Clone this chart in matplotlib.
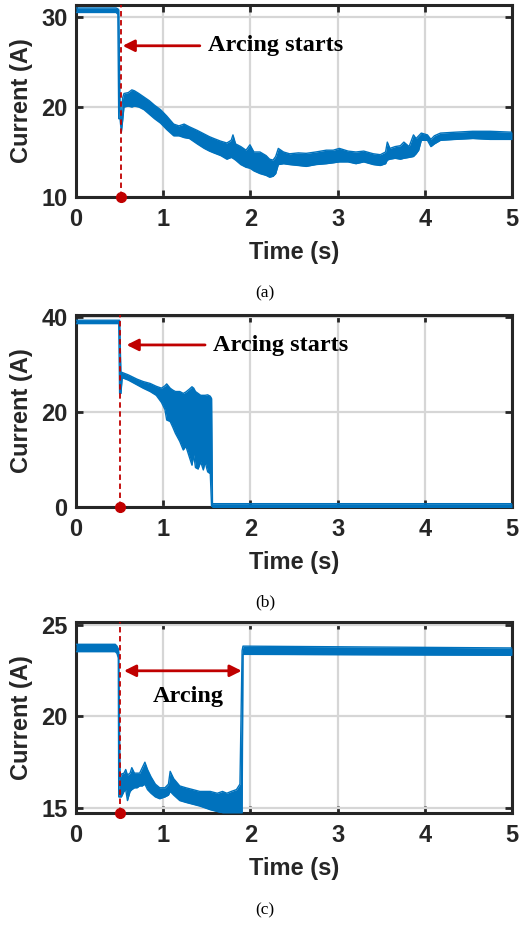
import matplotlib
matplotlib.use("Agg")
import matplotlib.pyplot as plt

# ---- measured current envelopes (time in s, lower / upper bound in A) ----
t_a = [0.00, 0.46, 0.48, 0.49, 0.505, 0.52, 0.535, 0.55, 0.60, 0.64, 0.67, 0.72, 0.78, 0.84,
       0.90, 0.97, 1.04, 1.12, 1.18, 1.24, 1.30, 1.39, 1.47, 1.53, 1.58, 1.66, 1.73, 1.78,
       1.80, 1.83, 1.89, 1.95, 1.995, 2.04, 2.11, 2.18, 2.22, 2.26, 2.29, 2.32, 2.38, 2.45,
       2.55, 2.64, 2.75, 2.87, 2.95, 3.02, 3.12, 3.21, 3.30, 3.41, 3.49, 3.55, 3.57, 3.60,
       3.66, 3.72, 3.76, 3.82, 3.87, 3.90, 3.93, 3.96, 4.03, 4.07, 4.11, 4.18, 4.35, 4.55,
       4.75, 5.00]
lo_a = [30.5, 30.5, 30.3, 18.7, 18.7, 17.2, 18.5, 20.0, 20.1, 20.0, 20.1, 20.0, 19.7, 19.2,
        18.7, 18.2, 17.5, 16.8, 16.8, 16.6, 16.5, 15.9, 15.4, 15.1, 14.9, 14.6, 14.2, 14.4,
        14.3, 14.1, 13.6, 13.3, 13.2, 12.9, 12.6, 12.4, 12.2, 12.3, 12.6, 13.6, 13.7, 13.6,
        13.5, 13.4, 13.6, 13.7, 13.8, 13.9, 13.9, 13.7, 13.9, 13.6, 13.5, 13.7, 14.1, 14.2,
        14.3, 14.2, 14.3, 14.4, 14.5, 14.8, 15.2, 16.3, 16.3, 15.6, 15.9, 16.3, 16.4, 16.5,
        16.4, 16.4]
hi_a = [31.0, 31.0, 30.9, 30.8, 19.5, 19.0, 21.0, 21.5, 21.6, 21.9, 21.8, 21.5, 21.1, 20.7,
        20.2, 19.7, 19.0, 18.1, 17.9, 18.1, 17.8, 17.4, 17.0, 16.7, 16.5, 16.2, 16.0, 16.3,
        16.9, 15.9, 15.6, 15.2, 15.8, 15.0, 15.0, 14.6, 14.2, 14.1, 14.5, 15.4, 15.0, 14.8,
        14.9, 14.85, 15.0, 15.2, 15.2, 15.4, 15.1, 15.0, 15.1, 14.8, 14.7, 15.0, 16.1, 15.4,
        15.6, 15.7, 16.1, 15.6, 16.9, 16.5, 16.8, 17.1, 16.9, 16.4, 16.8, 17.1, 17.2, 17.3,
        17.3, 17.2]

t_b = [0.00, 0.49, 0.50, 0.515, 0.53, 0.60, 0.70, 0.77, 0.85, 0.92, 0.98, 1.02, 1.04, 1.08,
       1.11, 1.14, 1.19, 1.23, 1.26, 1.30, 1.33, 1.35, 1.37, 1.40, 1.43, 1.46, 1.48, 1.51,
       1.54, 1.555, 1.565, 5.00]
lo_b = [38.6, 38.6, 23.9, 23.9, 27.2, 26.7, 25.7, 25.0, 24.3, 23.5, 22.0, 20.5, 18.3, 18.0,
        16.8, 15.5, 13.8, 12.0, 12.8, 10.5, 8.8, 11.0, 8.3, 8.0, 9.5, 7.8, 9.5, 7.4,
        7.0, 0.0, -0.2, -0.2]
hi_b = [39.3, 39.3, 39.3, 28.4, 28.3, 27.8, 26.9, 26.4, 26.0, 25.4, 25.0, 25.5, 25.9, 25.0,
        24.6, 24.3, 24.3, 23.9, 24.2, 24.8, 25.3, 25.0, 24.3, 23.9, 23.5, 23.5, 23.5, 23.6,
        23.3, 22.8, 0.7, 0.7]

t_c = [0.00, 0.45, 0.47, 0.485, 0.49, 0.505, 0.52, 0.55, 0.57, 0.59, 0.62, 0.64, 0.67, 0.70,
       0.73, 0.76, 0.79, 0.82, 0.86, 0.91, 0.96, 1.02, 1.06, 1.08, 1.12, 1.19, 1.26, 1.34,
       1.42, 1.48, 1.54, 1.62, 1.68, 1.73, 1.78, 1.84, 1.88, 1.905, 1.915, 5.00]
lo_c = [23.55, 23.55, 23.45, 23.2, 15.6, 15.6, 15.6, 15.9, 16.0, 15.4, 15.9, 16.0, 16.1, 16.1,
        16.2, 16.2, 16.3, 16.0, 15.8, 15.6, 15.5, 15.6, 15.7, 15.9, 15.7, 15.4, 15.3, 15.2,
        15.1, 15.0, 14.9, 14.8, 14.72, 14.72, 14.72, 14.72, 14.72, 14.72, 23.4, 23.35]
hi_c = [23.95, 23.95, 23.85, 23.7, 23.5, 16.6, 16.85, 16.9, 17.1, 16.8, 16.9, 17.2, 16.9, 16.9,
        16.9, 17.2, 17.5, 17.1, 16.7, 16.3, 16.1, 16.1, 16.3, 17.0, 16.6, 16.2, 16.1, 16.0,
        15.9, 15.9, 15.9, 15.8, 15.9, 15.8, 15.9, 16.0, 16.3, 23.6, 23.85, 23.75]

x_ticks = [0, 1, 2, 3, 4, 5]
y_ticks_a = [10, 20, 30]
y_ticks_b = [0, 20, 40]
y_ticks_c = [15, 20, 25]
arc_start = [0.52, 0.50, 0.50]
arc_end_c = 1.90
captions = ["(a)", "(b)", "(c)"]

BLUE = "#0072BD"
RED = "#C00000"
FRAME = "#262626"

fig = plt.figure(figsize=(5.22, 9.25), dpi=100)
W, H = 522.0, 925.0


def make_axes(top_px, bottom_px):
    return fig.add_axes([76 / W, 1 - bottom_px / H, 436 / W, (bottom_px - top_px) / H])


def style(ax, ylim, yticks):
    ax.set_xlim(0, 5)
    ax.set_ylim(*ylim)
    ax.set_xticks(x_ticks)
    ax.set_yticks(yticks)
    ax.grid(True, color="#d6d6d6", linewidth=1.6)
    ax.set_axisbelow(True)
    for s in ax.spines.values():
        s.set_linewidth(2.2)
        s.set_color(FRAME)
    ax.tick_params(direction="in", length=5, width=2, colors=FRAME,
                   top=True, right=True, labelsize=17)
    ax.tick_params(axis="x", pad=8)
    ax.tick_params(axis="y", pad=6)
    for lab in ax.get_xticklabels() + ax.get_yticklabels():
        lab.set_fontfamily("Liberation Sans")
        lab.set_fontweight("bold")
        lab.set_color(FRAME)
    ax.set_xlabel("Time (s)", fontsize=17, fontweight="bold",
                  fontfamily="Liberation Sans", color=FRAME)
    ax.set_ylabel("Current (A)", fontsize=17, fontweight="bold",
                  fontfamily="Liberation Sans", color=FRAME)
    ax.xaxis.set_label_coords(0.5, -0.23)
    ax.yaxis.set_label_coords(-0.099, 0.5)


def draw_signal(ax, t, lo, hi):
    ax.fill_between(t, lo, hi, color=BLUE, linewidth=0, zorder=3)
    ax.plot(t, lo, color=BLUE, linewidth=1.0, zorder=3)
    ax.plot(t, hi, color=BLUE, linewidth=1.0, zorder=3)


def draw_marker(ax, x0):
    ax.axvline(x0, color=RED, linestyle=(0, (3, 2)), linewidth=1.3, zorder=4)
    ax.plot([x0], [ax.get_ylim()[0]], "o", color=RED, markersize=7,
            clip_on=False, zorder=6)


axes_px = [(5, 197), (315, 507), (622, 813)]
ylims = [(10, 31.33), (0, 40.4), (14.72, 25.17)]
series = [(t_a, lo_a, hi_a), (t_b, lo_b, hi_b), (t_c, lo_c, hi_c)]
yticks_all = [y_ticks_a, y_ticks_b, y_ticks_c]
caption_y = [293, 602, 910]

axs = []
for i in range(3):
    ax = make_axes(*axes_px[i])
    style(ax, ylims[i], yticks_all[i])
    draw_signal(ax, *series[i])
    draw_marker(ax, arc_start[i])
    axs.append(ax)
    fig.text(265 / W, 1 - caption_y[i] / H, captions[i], ha="center", va="center",
             fontsize=12.5, fontfamily="Liberation Serif", color="black")

serif_bold = dict(fontsize=17.5, fontweight="bold", fontfamily="Liberation Serif",
                  color="black")
arrow_kw = dict(arrowstyle="-|>,head_length=0.7,head_width=0.35", color=RED,
                linewidth=2, shrinkA=0, shrinkB=0)

# (a) arc onset annotation
axs[0].annotate("", xy=(0.535, 26.8), xytext=(1.42, 26.8), arrowprops=arrow_kw, zorder=5)
axs[0].text(1.515, 26.8, "Arcing starts", ha="left", va="center", **serif_bold)

# (b) arc onset annotation
axs[1].annotate("", xy=(0.58, 34.1), xytext=(1.48, 34.1), arrowprops=arrow_kw, zorder=5)
axs[1].text(1.57, 34.0, "Arcing starts", ha="left", va="center", **serif_bold)

# (c) arcing interval
dbl_kw = dict(arrowstyle="<|-|>,head_length=0.7,head_width=0.35", color=RED,
              linewidth=2, shrinkA=0, shrinkB=0)
axs[2].annotate("", xy=(arc_end_c, 22.5), xytext=(0.55, 22.5), arrowprops=dbl_kw, zorder=5)
axs[2].text(1.29, 21.1, "Arcing", ha="center", va="center", **serif_bold)

fig.savefig("out.png", dpi=100)
